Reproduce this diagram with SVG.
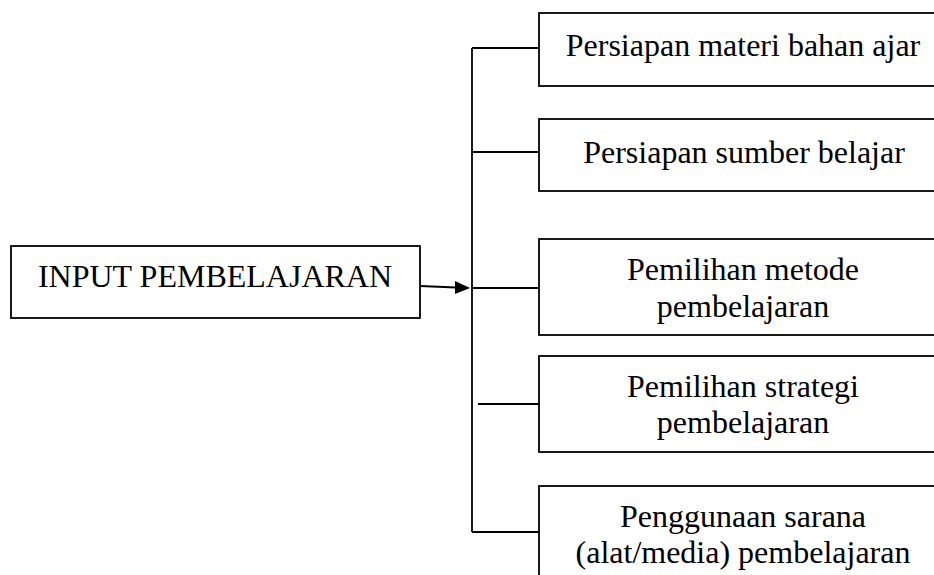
<svg xmlns="http://www.w3.org/2000/svg" width="934" height="575" viewBox="0 0 934 575">
<style>
.box{fill:#fff;stroke:#000;stroke-width:1.8}
.t{font-family:"Liberation Serif","Times New Roman",serif;font-size:32px;fill:#000;text-anchor:middle}
.c{stroke:#000;stroke-width:1.8;fill:none}
</style>
<defs>
<marker id="arr" markerWidth="10" markerHeight="10" refX="9" refY="5" orient="auto" markerUnits="userSpaceOnUse" viewBox="0 0 10 10">
<path d="M0,0 L10,5 L0,10 Z" fill="#000"/>
</marker>
</defs>
<rect width="934" height="575" fill="#fff"/>
<g id="connectors">
<path class="c" d="M472,48 V532"/>
<path class="c" d="M472,48 H539"/>
<path class="c" d="M472,152 H539"/>
<path class="c" d="M472,288 H539"/>
<path class="c" d="M478,404 H539"/>
<path class="c" d="M472,532 H539"/>
<path class="c" d="M420,286 L456,287.5"/>
<path d="M455,281 L470,288 L455,294 Z" fill="#000"/>
</g>
<g id="input">
<rect class="box" x="11" y="246" width="409" height="72"/>
<text class="t" x="215" y="287">INPUT PEMBELAJARAN</text>
</g>
<g id="materi">
<rect class="box" x="539" y="13" width="420" height="73"/>
<text class="t" x="743" y="56">Persiapan materi bahan ajar</text>
</g>
<g id="sumber">
<rect class="box" x="539" y="119" width="420" height="72"/>
<text class="t" x="744" y="163">Persiapan sumber belajar</text>
</g>
<g id="metode">
<rect class="box" x="539" y="239" width="420" height="96"/>
<text class="t" x="743" y="280">Pemilihan metode</text>
<text class="t" x="743" y="317">pembelajaran</text>
</g>
<g id="strategi">
<rect class="box" x="539" y="356" width="420" height="96"/>
<text class="t" x="743" y="397">Pemilihan strategi</text>
<text class="t" x="743" y="433">pembelajaran</text>
</g>
<g id="sarana">
<rect class="box" x="539" y="486" width="420" height="120"/>
<text class="t" x="743" y="527">Penggunaan sarana</text>
<text class="t" x="743" y="563">(alat/media) pembelajaran</text>
</g>
</svg>
